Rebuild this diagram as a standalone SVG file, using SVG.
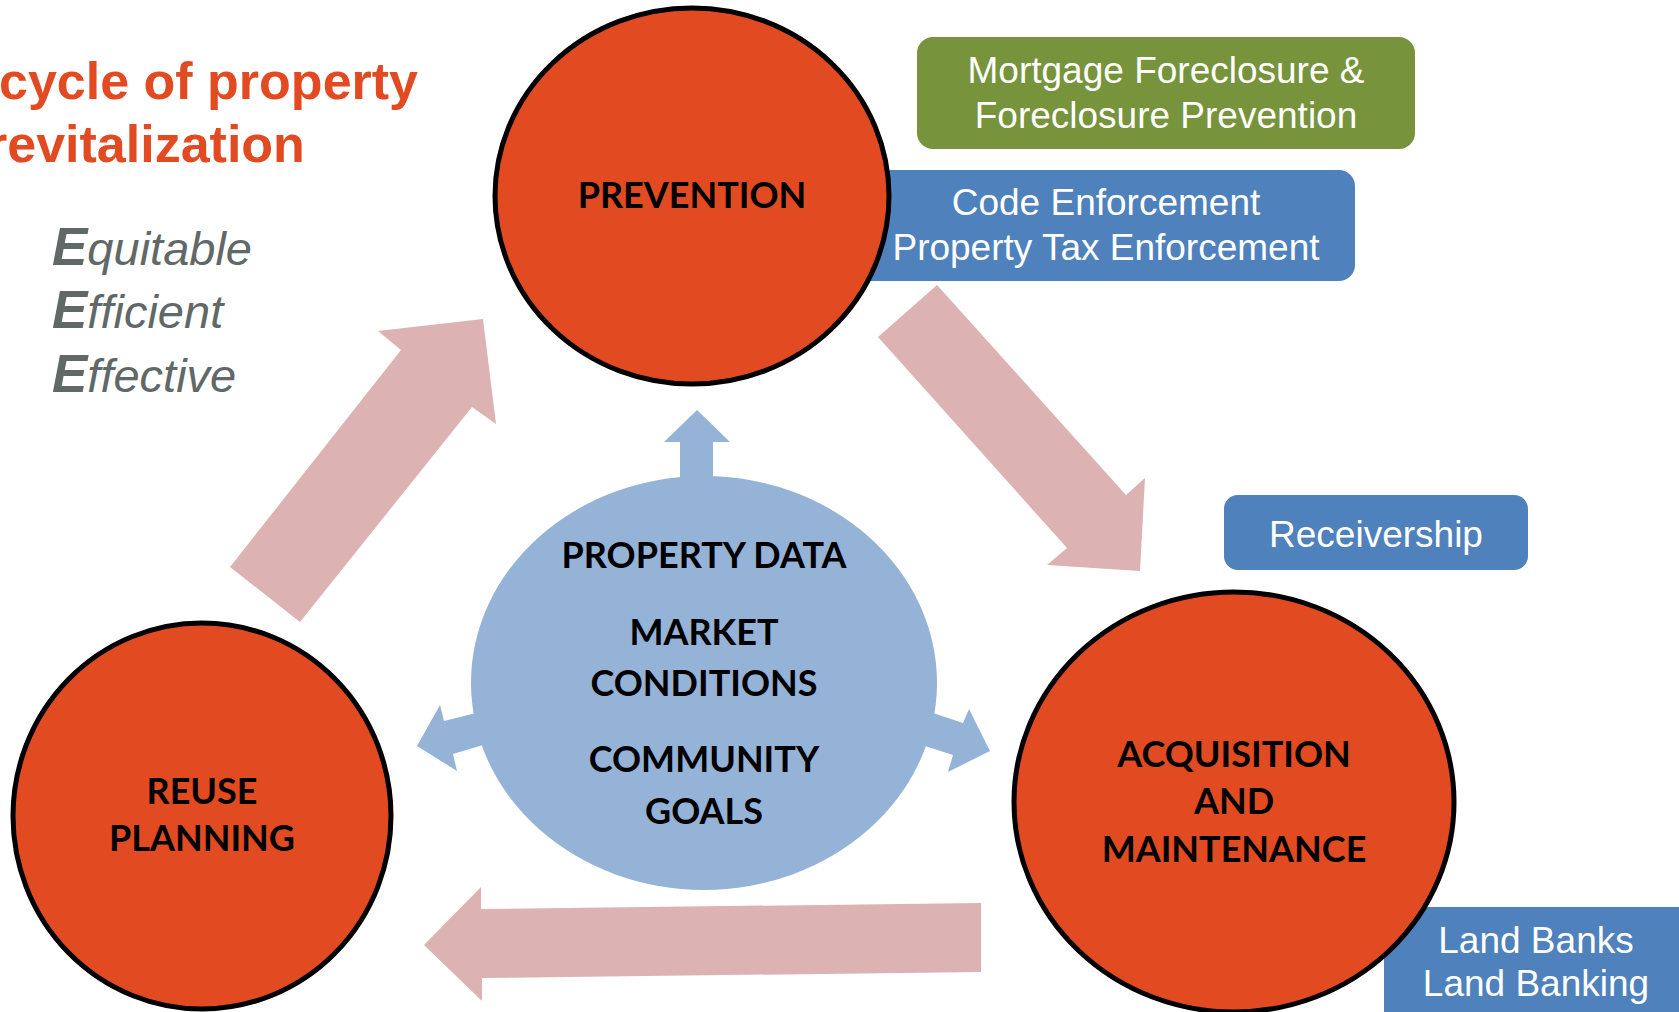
<svg xmlns="http://www.w3.org/2000/svg" width="1679" height="1012" viewBox="0 0 1679 1012">
  <style>
    .title { font-family: "Liberation Sans", Arial, sans-serif; font-weight: bold; font-size: 52px; fill: #E24B22; }
    .ee { font-family: "Liberation Sans", Arial, sans-serif; font-style: italic; font-size: 47px; fill: #606868; }
    .ee .cap { font-weight: bold; font-size: 53px; }
    .stage { fill: #E24B22; stroke: #000; stroke-width: 5; }
    .stage-label { font-family: Lato, "Open Sans", sans-serif; font-weight: bold; font-size: 36px; fill: #000; text-anchor: middle; }
    .flow { fill: #DCB2B2; }
    .core { fill: #95B3D7; }
    .tag-blue { fill: #4F81BD; }
    .tag-green { fill: #77933C; }
    .tag-text { font-family: "Liberation Sans", Arial, sans-serif; font-size: 37px; fill: #fff; text-anchor: middle; }
  </style>

  <rect width="1679" height="1012" fill="#fff"/>

  <!-- heading -->
  <g id="heading">
    <text class="title" x="-1" y="99">cycle of property</text>
    <text class="title" x="-13" y="162">revitalization</text>
  </g>

  <g id="principles" class="ee">
    <text x="52" y="265"><tspan class="cap">E</tspan>quitable</text>
    <text x="52" y="328"><tspan class="cap">E</tspan>fficient</text>
    <text x="52" y="392"><tspan class="cap">E</tspan>ffective</text>
  </g>

  <!-- cycle arrows between stages -->
  <g id="connectors">
    <polygon class="flow" points="230,567 401,350 378,331 483,319 496,424 472,407 300,622"/>
    <polygon class="flow" points="878,337 937,285 1126,495 1145,478 1140,571 1047,565 1067,548"/>
    <polygon class="flow" points="424,945 481,887 481,909 981,903 981,972 482,978 482,1001"/>
    <!-- small arrows out of the central hub -->
    <polygon class="core" points="680,480 680,442 664,442 697,410 730,442 713,442 713,480"/>
    <polygon class="core" points="476,713 444,721 440,705 417,746 457,771 453,754 483,745"/>
    <polygon class="core" points="925,746 933,713 963,723 969,709 990,751 948,772 953,755"/>
  </g>

  <!-- side tags -->
  <g id="tag-mortgage">
    <rect class="tag-green" x="917" y="37" width="498" height="112" rx="16"/>
    <text class="tag-text" x="1166" y="83">Mortgage Foreclosure &amp;</text>
    <text class="tag-text" x="1166" y="128">Foreclosure Prevention</text>
  </g>

  <g id="tag-enforcement">
    <rect class="tag-blue" x="820" y="170" width="535" height="111" rx="16"/>
    <text class="tag-text" x="1106" y="215">Code Enforcement</text>
    <text class="tag-text" x="1106" y="260">Property Tax Enforcement</text>
  </g>

  <g id="tag-receivership">
    <rect class="tag-blue" x="1224" y="495" width="304" height="75" rx="14"/>
    <text class="tag-text" x="1376" y="547">Receivership</text>
  </g>

  <g id="tag-landbank">
    <rect class="tag-blue" x="1384" y="907" width="320" height="140" rx="16"/>
    <text class="tag-text" x="1536" y="953">Land Banks</text>
    <text class="tag-text" x="1536" y="996">Land Banking</text>
  </g>

  <!-- central hub -->
  <g id="hub">
    <ellipse class="core" cx="704" cy="683" rx="233" ry="207"/>
    <text class="stage-label" x="704" y="568">PROPERTY DATA</text>
    <text class="stage-label" x="704" y="645">MARKET</text>
    <text class="stage-label" x="704" y="696">CONDITIONS</text>
    <text class="stage-label" x="704" y="772">COMMUNITY</text>
    <text class="stage-label" x="704" y="824">GOALS</text>
  </g>

  <!-- stages -->
  <g id="stage-prevention">
    <ellipse class="stage" cx="692" cy="196" rx="197" ry="188"/>
    <text class="stage-label" x="692" y="208">PREVENTION</text>
  </g>

  <g id="stage-acquisition">
    <ellipse class="stage" cx="1234" cy="802" rx="220" ry="210"/>
    <text class="stage-label" x="1234" y="767">ACQUISITION</text>
    <text class="stage-label" x="1234" y="814">AND</text>
    <text class="stage-label" x="1234" y="862">MAINTENANCE</text>
  </g>

  <g id="stage-reuse">
    <ellipse class="stage" cx="202" cy="816" rx="189" ry="193"/>
    <text class="stage-label" x="202" y="804">REUSE</text>
    <text class="stage-label" x="202" y="851">PLANNING</text>
  </g>
</svg>
